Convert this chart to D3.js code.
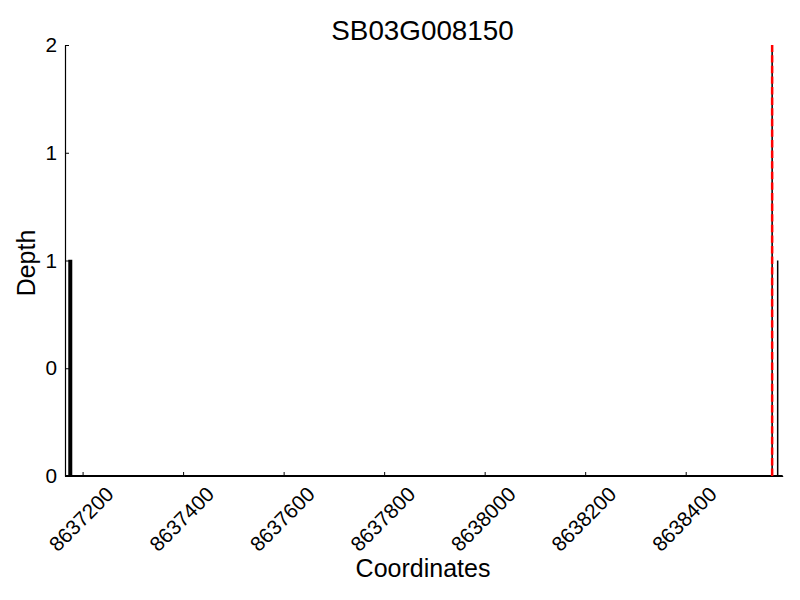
<!DOCTYPE html>
<html>
<head>
<meta charset="utf-8">
<script src="https://cdn.jsdelivr.net/npm/d3@7"></script>
<style>
  html, body { margin: 0; padding: 0; background: #fff; }
  svg { display: block; }
  text { font-family: "Liberation Sans", Arial, Helvetica, sans-serif; fill: #000; }
</style>
</head>
<body>
<svg id="chart" width="800" height="600"></svg>
<script>
// ---- data ----
const titleText = "SB03G008150";
const xLabel = "Coordinates";
const yLabel = "Depth";
const xDomain = [8637165, 8638593];
const yDomain = [0, 2];
const xTicks = [8637200, 8637400, 8637600, 8637800, 8638000, 8638200, 8638400];
const yTicks = [0, 0.5, 1, 1.5, 2];
const yTickLabels = ["0", "0", "1", "1", "2"];
// coverage segments (start, end, depth)
const covStart = [8637173, 8638572, 8638583];
const covEnd   = [8637178, 8638572, 8638583];
const covDepth = [1, 2, 1];
// marker (red dashed) position
const markerPos = [8638572];

(function () {
// ---- layout ----
const svg = d3.select("#chart");
const mLeft = 65, mRight = 782.7, mTop = 45, mBottom = 476;
const x = d3.scaleLinear().domain(xDomain).range([mLeft, mRight]);
const y = d3.scaleLinear().domain(yDomain).range([mBottom, mTop]);

// coverage
const segs = covStart.map((s, i) => ({ s, e: covEnd[i], d: covDepth[i] }));
svg.append("g").selectAll("path").data(segs).join("path")
  .attr("d", d => {
    const x0 = x(d.s), x1 = x(d.e), y0 = y(0), y1 = y(d.d);
    return `M${x0},${y0}V${y1}H${x1}V${y0}`;
  })
  .attr("fill", d => d.e > d.s ? "#000" : "none")
  .attr("stroke", "#000")
  .attr("stroke-width", 1.5);

// baseline of depth
svg.append("line")
  .attr("x1", x(xDomain[0])).attr("x2", x(xDomain[1]))
  .attr("y1", y(0) - 0.5).attr("y2", y(0) - 0.5)
  .attr("stroke", "#000").attr("stroke-width", 1);

// marker
svg.append("g").selectAll("line").data(markerPos).join("line")
  .attr("x1", d => x(d)).attr("x2", d => x(d))
  .attr("y1", y(yDomain[0])).attr("y2", y(yDomain[1]))
  .attr("stroke", "#ff0000").attr("stroke-width", 2.5)
  .attr("stroke-dasharray", "7.4,3.2");

// axes (ticks inward)
const fs = 20.8;
const gx = svg.append("g").attr("transform", `translate(0,${mBottom})`)
  .call(d3.axisBottom(x).tickValues(xTicks).tickSize(-4).tickSizeOuter(0).tickFormat(d3.format("d")));
gx.select(".domain").attr("stroke-width", 1.2);
gx.selectAll(".tick text").each(function() {
  const t = d3.select(this);
  t.attr("font-size", fs).attr("font-family", null).attr("y", null).attr("dy", null)
   .attr("text-anchor", "middle").attr("dominant-baseline", "central");
  const L = this.getComputedTextLength();
  const H = fs * 0.72;
  const cy = 9 + (L + H) / (2 * Math.SQRT2);
  t.attr("transform", `translate(-2,${cy}) rotate(-45)`);
});

const gy = svg.append("g").attr("transform", `translate(${mLeft},0)`)
  .call(d3.axisLeft(y).tickValues(yTicks).tickSize(-4).tickSizeOuter(0)
        .tickFormat((d, i) => yTickLabels[i]));
gy.select(".domain").attr("stroke-width", 1.2);
gy.selectAll(".tick text").attr("font-size", fs).attr("x", -8);
svg.selectAll(".tick line").attr("stroke", "#000");
svg.selectAll(".domain").attr("stroke", "#000");
svg.selectAll("g").attr("font-family", null);

// title and labels
svg.append("text").attr("x", 422.5).attr("y", 40)
  .attr("text-anchor", "middle").attr("font-size", 27.8).text(titleText);
svg.append("text").attr("x", 423).attr("y", 577)
  .attr("text-anchor", "middle").attr("font-size", 25).text(xLabel);
svg.append("text").attr("transform", "translate(35,263) rotate(-90)")
  .attr("text-anchor", "middle").attr("font-size", 25).text(yLabel);
})();
</script>
</body>
</html>
